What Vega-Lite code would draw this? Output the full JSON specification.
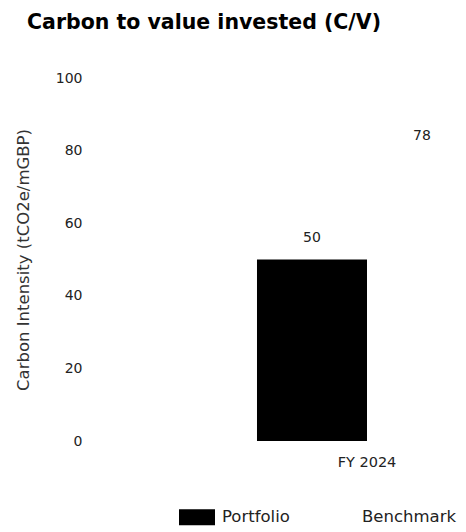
{
  "$schema": "https://vega.github.io/schema/vega-lite/v6.json",
  "autosize": "none",
  "width": 376,
  "height": 363,
  "padding": {"left": 90, "top": 78, "right": 0, "bottom": 91},
  "background": "#ffffff",
  "config": {
    "view": {"stroke": null},
    "font": "DejaVu Sans"
  },
  "title": {
    "text": "Carbon to value invested (C/V)",
    "anchor": "start",
    "frame": "group",
    "dx": -63,
    "font": "DejaVu Sans",
    "fontSize": 20.5,
    "fontWeight": "bold",
    "color": "#000000",
    "offset": 38
  },
  "data": {
    "values": [
      {"year": "FY 2024", "series": "Portfolio", "value": 50},
      {"year": "FY 2024", "series": "Benchmark", "value": 78}
    ]
  },
  "encoding": {
    "x": {
      "field": "year",
      "type": "nominal",
      "scale": {"range": [0, 554], "paddingInner": 0, "paddingOuter": 0.759},
      "axis": {
        "title": null,
        "domain": false,
        "ticks": false,
        "labelAngle": 0,
        "labelPadding": 14,
        "labelFontSize": 14.5,
        "labelColor": "#222222",
        "labelFont": "DejaVu Sans"
      }
    },
    "xOffset": {
      "field": "series",
      "type": "nominal",
      "sort": ["Portfolio", "Benchmark"],
      "scale": {"paddingInner": 0, "paddingOuter": 0}
    },
    "y": {
      "field": "value",
      "type": "quantitative",
      "scale": {"domain": [0, 100]},
      "axis": {
        "title": "Carbon Intensity (tCO2e/mGBP)",
        "titleFontSize": 16.5,
        "titleFontWeight": "normal",
        "titleColor": "#333333",
        "titleFont": "DejaVu Sans",
        "titlePadding": 24,
        "values": [0, 20, 40, 60, 80, 100],
        "domain": false,
        "ticks": false,
        "grid": false,
        "labelPadding": 8,
        "labelFontSize": 14,
        "labelColor": "#222222",
        "labelFont": "DejaVu Sans"
      }
    }
  },
  "layer": [
    {
      "mark": {"type": "bar"},
      "encoding": {
        "color": {
          "field": "series",
          "type": "nominal",
          "sort": ["Portfolio", "Benchmark"],
          "scale": {"domain": ["Portfolio", "Benchmark"], "range": ["#000000", "#ffffff"]},
          "legend": {
            "title": null,
            "orient": "none",
            "legendX": 89,
            "legendY": 421,
            "direction": "horizontal",
            "symbolType": "M-1,-0.44H1V0.44H-1Z",
            "symbolSize": 1296,
            "symbolStrokeWidth": 0,
            "labelFontSize": 16.5,
            "labelColor": "#222222",
            "labelFont": "DejaVu Sans",
            "labelOffset": 7,
            "columnPadding": 29
          }
        }
      }
    },
    {
      "mark": {"type": "text", "dy": -22, "fontSize": 14, "color": "#222222", "font": "DejaVu Sans"},
      "encoding": {
        "text": {"field": "value", "type": "quantitative"}
      }
    }
  ]
}
